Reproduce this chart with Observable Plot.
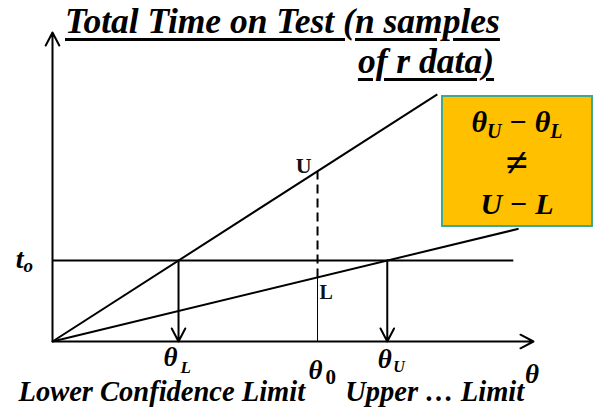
<!DOCTYPE html>
<html>
<head>
<meta charset="utf-8">
<script src="https://cdn.jsdelivr.net/npm/d3@7"></script>
<script src="https://cdn.jsdelivr.net/npm/@observablehq/plot@0.6"></script>
<style>
  body { margin: 0; background: #fff; }
  #wrap { position: relative; width: 593px; height: 409px; overflow: hidden; }
  .serif { font-family: 'Liberation Serif', 'Times New Roman', serif; font-weight: bold; font-style: italic; color: #000; }
  .title { position: absolute; font-size: 35.5px; line-height: 40px; height: 40px; white-space: nowrap;
           text-decoration: underline; text-decoration-thickness: 2.5px; text-underline-offset: 5px; }
  #box { position: absolute; left: 441px; top: 95px; width: 148px; height: 124px; padding-top: 4px;
         background: #FFC000; border: 2px solid #3FA98B; text-align: center; }
  #box div { font-size: 30px; line-height: 41px; height: 41px; }
  #box div.ne { font-size: 40px; font-style: normal; }
  #box sub { font-size: 20px; vertical-align: -6px; line-height: 0; }
</style>
</head>
<body>
<div id="wrap"></div>
<script>
// ---- data (diagram values, in chart units) ----
const thetaL = 2.62;     // lower confidence limit on θ axis
const theta0 = 5.51;     // true parameter
const thetaU = 6.96;     // upper confidence limit on θ axis
const t0 = 2.62;         // observed total time on test
const steepEnd = 8.0;    // θ where the upper line ends
const shallowEnd = 9.69; // θ where the lower line ends
const t0End = 9.58;      // θ where the t_o line ends
const axisMax = [10, 10];// θ-axis and time-axis extent
const titleLines = ["Total Time on Test (n samples", "of r data)"];
const captions = ["Lower Confidence Limit", "Upper … Limit"];
const boxLines = ["θ<sub>U</sub> − θ<sub>L</sub>", "≠", "U − L"];

const steepSlope = t0 / thetaL;
const shallowSlope = t0 / thetaU;
const Uval = steepSlope * theta0;
const Lval = shallowSlope * theta0;

const lines = [
  {x1: 0, y1: 0, x2: steepEnd, y2: steepSlope * steepEnd},
  {x1: 0, y1: 0, x2: shallowEnd, y2: shallowSlope * shallowEnd},
  {x1: 0, y1: t0, x2: t0End, y2: t0}
];
const axes = [
  {x1: 0, y1: 0, x2: axisMax[0], y2: 0},
  {x1: 0, y1: 0, x2: 0, y2: axisMax[1]}
];
const drops = [
  {x1: thetaL, y1: t0, x2: thetaL, y2: 0},
  {x1: thetaU, y1: t0, x2: thetaU, y2: 0}
];

const F = "'Liberation Serif', 'Times New Roman', serif";
const T = (data, o) => Plot.text(data, {fontFamily: F, fontWeight: "bold", fontStyle: "italic", fill: "#000", lineAnchor: "bottom", ...o});

const chart = Plot.plot({
  width: 593, height: 409,
  marginLeft: 52, marginRight: 60, marginTop: 32, marginBottom: 68,
  x: {domain: [0, axisMax[0]], axis: null},
  y: {domain: [0, axisMax[1]], axis: null},
  marks: [
    Plot.arrow(axes, {x1: "x1", y1: "y1", x2: "x2", y2: "y2", stroke: "#000", strokeWidth: 2, headLength: 11, headAngle: 55}),
    Plot.link(lines, {x1: "x1", y1: "y1", x2: "x2", y2: "y2", stroke: "#000", strokeWidth: 2}),
    Plot.arrow(drops, {x1: "x1", y1: "y1", x2: "x2", y2: "y2", stroke: "#000", strokeWidth: 2, headLength: 11, headAngle: 55}),
    Plot.link([{x: theta0, a: Lval, b: Uval}], {x1: "x", x2: "x", y1: "a", y2: "b", stroke: "#000", strokeWidth: 2, strokeDasharray: "9,5"}),
    Plot.link([{x: theta0, a: 0, b: Lval}], {x1: "x", x2: "x", y1: "a", y2: "b", stroke: "#000", strokeWidth: 1}),
    // t_o
    T([{x: 0, y: t0}], {x: "x", y: "y", text: () => "t", textAnchor: "end", dx: -29, dy: 7, fontSize: 28}),
    T([{x: 0, y: t0}], {x: "x", y: "y", text: () => "o", textAnchor: "start", dx: -29, dy: 11, fontSize: 19}),
    // U and L
    Plot.text([{x: theta0, y: Uval}], {x: "x", y: "y", text: () => "U", textAnchor: "end", dx: -6, dy: 2, lineAnchor: "bottom", fontSize: 22, fontWeight: "bold", fontFamily: F, fill: "#111"}),
    Plot.text([{x: theta0, y: Lval}], {x: "x", y: "y", text: () => "L", textAnchor: "start", dx: 2, dy: 22, lineAnchor: "bottom", fontSize: 20, fontWeight: "bold", fontFamily: F, fill: "#111"}),
    // θ labels
    T([{x: thetaL}], {x: "x", y: () => 0, text: () => "θ", textAnchor: "middle", dx: -8, dy: 24, fontSize: 27}),
    T([{x: thetaL}], {x: "x", y: () => 0, text: () => "L", textAnchor: "start", dx: 2, dy: 31, fontSize: 17}),
    T([{x: theta0}], {x: "x", y: () => 0, text: () => "θ", textAnchor: "middle", dx: -2, dy: 37, fontSize: 27}),
    Plot.text([{x: theta0}], {x: "x", y: () => 0, text: () => "0", textAnchor: "start", dx: 8, dy: 42, lineAnchor: "bottom", fontSize: 21, fontWeight: "bold", fontFamily: F, fill: "#000"}),
    T([{x: thetaU}], {x: "x", y: () => 0, text: () => "θ", textAnchor: "middle", dx: -2.5, dy: 26, fontSize: 27}),
    T([{x: thetaU}], {x: "x", y: () => 0, text: () => "U", textAnchor: "start", dx: 6, dy: 30, fontSize: 16}),
    T([{x: axisMax[0]}], {x: "x", y: () => 0, text: () => "θ", textAnchor: "middle", dx: -1.5, dy: 41, fontSize: 27}),
    // captions
    T([{x: 0, t: captions[0]}], {x: "x", y: () => 0, text: "t", textAnchor: "start", dx: -34, dy: 59, fontSize: 28.5}),
    T([{x: thetaU, t: captions[1]}], {x: "x", y: () => 0, text: "t", textAnchor: "start", dx: -42, dy: 59, fontSize: 28.5})
  ]
});

const wrap = document.getElementById("wrap");
wrap.appendChild(chart);

const t1 = document.createElement("div");
t1.className = "serif title";
t1.style.left = "65px"; t1.style.top = "1px";
t1.textContent = titleLines[0];
wrap.appendChild(t1);

const t2 = document.createElement("div");
t2.className = "serif title";
t2.style.right = (593 - 494) + "px"; t2.style.top = "41px";
t2.textContent = titleLines[1];
wrap.appendChild(t2);

const box = document.createElement("div");
box.id = "box";
box.className = "serif";
boxLines.forEach((l, i) => {
  const d = document.createElement("div");
  if (i === 1) d.className = "ne";
  d.innerHTML = l;
  box.appendChild(d);
});
wrap.appendChild(box);
</script>
</body>
</html>
